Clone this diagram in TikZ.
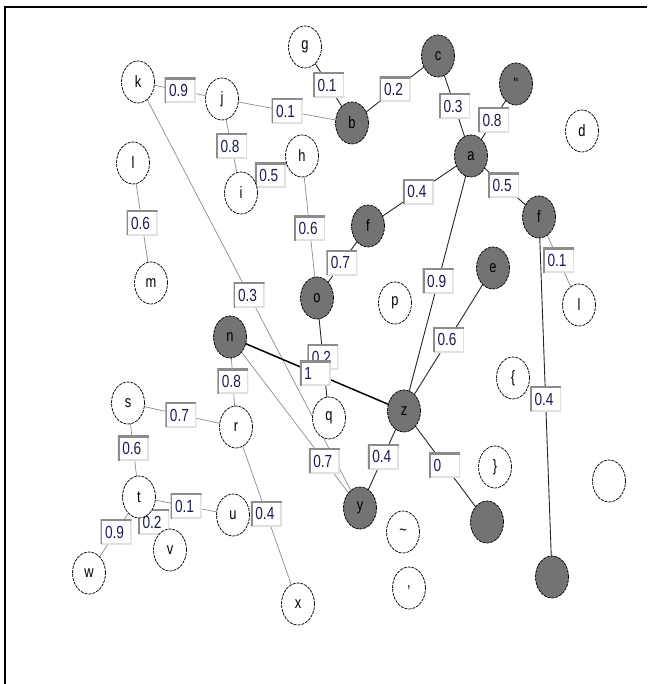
\documentclass[tikz,border=0pt]{standalone}
\usepackage{fontspec}
\newfontfamily\nodefont[FakeStretch=0.78]{Liberation Sans}
\usetikzlibrary{shapes.geometric,backgrounds}
\definecolor{labcol}{RGB}{28,28,80}
\definecolor{nodegray}{RGB}{115,115,115}
\tikzset{
  vtx/.style={ellipse, draw=black, line width=0.75pt, dash pattern=on 3pt off 1pt,
    minimum width=33pt, minimum height=42pt, inner sep=0pt, fill=white,
    font=\nodefont\fontsize{16.5}{16.5}\selectfont},
  fvtx/.style={vtx, fill=nodegray},
  wlab/.style={draw=none, fill=white, inner xsep=4.5pt, inner ysep=0pt,
    minimum height=25pt, text height=12.5pt, text depth=0pt, text=labcol,
    font=\nodefont\fontsize{17.5}{17.5}\selectfont,
    path picture={
      \draw[black!12, line width=3pt] (path picture bounding box.north east) -- (path picture bounding box.south east) -- (path picture bounding box.south west);
      \draw[black!45, line width=3.8pt] (path picture bounding box.south west) -- (path picture bounding box.north west) -- (path picture bounding box.north east);
    }},
  dk/.style={draw=black!85, line width=0.9pt},
  lt/.style={draw=black!45, line width=0.7pt},
}
\newcommand{\lb}[1]{\makebox[22pt][l]{#1}}
\begin{document}
\begin{tikzpicture}[x=1pt, y=-1pt]
\useasboundingbox (0,0) rectangle (647,684);
\draw[line width=2pt] (5,684) -- (5,7) -- (647,7);
% nodes
\node[vtx]  (k)  at (138,82)  {k};
\node[vtx]  (j)  at (222,99)  {j};
\node[vtx]  (g)  at (305,47)  {g};
\node[fvtx] (c)  at (438,56)  {c};
\node[fvtx] (b)  at (352,123) {b};
\node[fvtx] (qt) at (516,84)  {"};
\node[vtx]  (d)  at (582,131) {d};
\node[fvtx] (a)  at (471,156) {a};
\node[fvtx] (fr) at (539,217) {f};
\node[fvtx] (fl) at (368,226) {f};
\node[vtx]  (l1) at (133,163) {l};
\node[vtx]  (i)  at (241,193) {i};
\node[vtx]  (h)  at (302,156) {h};
\node[vtx]  (m)  at (151,283) {m};
\node[fvtx] (o)  at (317,298) {o};
\node[fvtx] (n)  at (230,337) {n};
\node[vtx]  (p)  at (395,303) {p};
\node[fvtx] (e)  at (493,268) {e};
\node[vtx]  (l2) at (579,305) {l};
\node[fvtx] (z)  at (404,411) {z};
\node[vtx]  (q)  at (329,418) {q};
\node[vtx]  (s)  at (128,403) {s};
\node[vtx]  (r)  at (236,427) {r};
\node[vtx]  (t)  at (139,497) {t};
\node[vtx]  (u)  at (233,515) {u};
\node[vtx]  (v)  at (170,550) {v};
\node[vtx]  (w)  at (89,573)  {w};
\node[vtx]  (x)  at (298,604) {x};
\node[fvtx] (y)  at (360,508) {y};
\node[vtx]  (tl) at (403,532) {\char`\~};
\node[vtx]  (cm) at (409,588) {,};
\node[vtx]  (rb) at (495,467) {\}};
\node[fvtx] (g1) at (487,522) {};
\node[vtx]  (wt) at (609,481) {};
\node[fvtx] (g2) at (552,577) {};
\begin{pgfonlayer}{background}
\node[vtx] (lbr) at (513,378) {\{};
\draw[lt] (k.center) -- node[wlab] {\lb{0.9}} (j.center);
\draw[lt] (j.center) -- node[wlab] {\lb{0.1}} (b.center);
\draw[dk] (g.center) -- node[wlab] {\lb{0.1}} (b.center);
\draw[dk] (b.center) -- node[wlab] {\lb{0.2}} (c.center);
\draw[dk] (c.center) -- node[wlab] {\lb{0.3}} (a.center);
\draw[dk] (qt.center) -- node[wlab] {\lb{0.8}} (a.center);
\draw[dk] (a.center) -- node[wlab, pos=0.48] {\lb{0.5}} (fr.center);
\draw[dk] (a.center) -- node[wlab, pos=0.51] {\lb{0.4}} (fl.center);
\draw[lt] (j.center) -- node[wlab] {\lb{0.8}} (i.center);
\draw[lt] (i.center) -- node[wlab, pos=0.48] {\lb{0.5}} (h.center);
\draw[lt] (h.center) -- node[wlab, pos=0.51] {\lb{0.6}} (o.center);
\draw[dk] (fl.center) -- node[wlab, pos=0.51] {\lb{0.7}} (o.center);
\draw[lt] (l1.center) -- node[wlab] {\lb{0.6}} (m.center);
\draw[lt] (k.center) -- node[wlab, pos=0.5] {\lb{0.3}} (y.center);
\draw[dk] (o.center) -- node[wlab, pos=0.49] {\lb{0.2}} (q.center);
\draw[dk] (a.center) -- node[wlab, pos=0.49] {\lb{0.9}} (z.center);
\draw[dk] (e.center) -- node[wlab, pos=0.5] {\lb{0.6}} (z.center);
\draw[draw=black, line width=1.5pt] (n.center) -- node[wlab, pos=0.49] {\lb{1}} (z.center);
\draw[lt] (n.center) -- node[wlab, pos=0.49] {\lb{0.8}} (r.center);
\draw[lt] (n.center) -- node[wlab, pos=0.725] {\lb{0.7}} (y.center);
\draw[dk] (z.center) -- node[wlab, pos=0.47] {\lb{0.4}} (y.center);
\draw[dk] (z.center) -- node[wlab, pos=0.49] {\lb{0}} (g1.center);
\draw[dk] (fr.center) -- node[wlab, pos=0.505] {\lb{0.4}} (g2.center);
\draw[lt] (fr.center) -- node[wlab, pos=0.49] {\lb{0.1}} (l2.center);
\draw[lt] (s.center) -- node[wlab, pos=0.49] {\lb{0.7}} (r.center);
\draw[lt] (s.center) -- node[wlab, pos=0.48] {\lb{0.6}} (t.center);
\draw[lt] (r.center) -- node[wlab, pos=0.49] {\lb{0.4}} (x.center);
\draw[lt] (t.center) -- node[wlab, pos=0.5] {\lb{0.1}} (u.center);
\draw[lt] (t.center) -- node[wlab, pos=0.47] {\lb{0.2}} (v.center);
\draw[lt] (t.center) -- node[wlab, pos=0.46] {\lb{0.9}} (w.center);
\end{pgfonlayer}
\end{tikzpicture}
\end{document}
